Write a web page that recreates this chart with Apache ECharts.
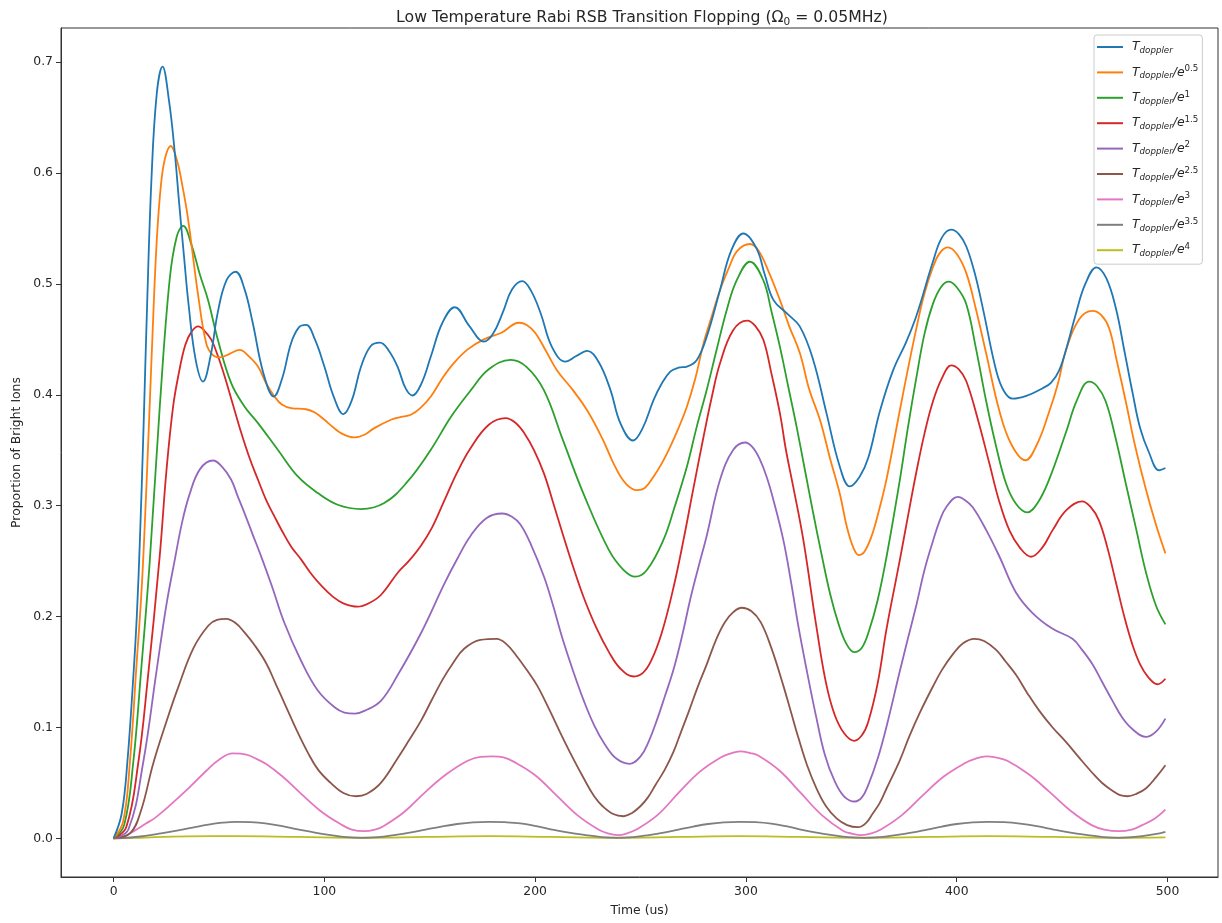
<!DOCTYPE html>
<html>
<head>
<meta charset="utf-8">
<script src="https://cdn.jsdelivr.net/npm/echarts@6/dist/echarts.min.js"></script>
<style>
  html, body { margin: 0; padding: 0; background: #fff; }
  #chart { width: 1222px; height: 923px; }
</style>
</head>
<body>
<div id="chart"></div>
<script>
// RSB flopping curves, [time (us), proportion bright], one per temperature T_doppler / e^k
const tDoppler = [[0,0],[3.8,0.022],[6.5,0.068],[9.5,0.15],[11,0.2],[12.5,0.27],[14.2,0.37],[15.9,0.481],[18,0.596],[20.5,0.672],[23.2,0.696],[26.3,0.665],[29,0.619],[31.1,0.573],[33.3,0.527],[35.6,0.481],[38.9,0.432],[42.4,0.412],[46,0.435],[49.5,0.475],[53.5,0.503],[57.9,0.511],[62,0.496],[66,0.465],[71,0.42],[76,0.3985],[80,0.415],[84.2,0.4466],[88,0.461],[91.3,0.463],[95.5,0.45],[100,0.4255],[104.5,0.398],[109,0.3826],[113,0.395],[117.4,0.4255],[122,0.444],[126.4,0.4471],[130.5,0.44],[134.7,0.4255],[138.5,0.406],[141.8,0.3994],[146,0.41],[150.5,0.4345],[156,0.465],[161.9,0.479],[168.8,0.462],[175.7,0.448],[180,0.455],[184.8,0.475],[189,0.495],[193.9,0.5025],[198,0.494],[202.6,0.4736],[208,0.443],[214.4,0.43],[219.5,0.435],[224.7,0.4396],[230,0.43],[235.7,0.4045],[240.4,0.3745],[246.4,0.3588],[251,0.37],[256.2,0.3955],[260,0.41],[264.1,0.421],[268,0.4245],[272,0.4255],[276.7,0.4315],[281.4,0.4525],[287.7,0.4946],[293,0.53],[298.8,0.5455],[305,0.532],[309,0.508],[313,0.4856],[319.3,0.4736],[325.6,0.4615],[331.9,0.4315],[338.2,0.3835],[344.5,0.3354],[349.3,0.3174],[354,0.3264],[358,0.343],[363.5,0.385],[369.8,0.422],[376.1,0.448],[381,0.472],[388.7,0.52],[393,0.542],[397.4,0.549],[401,0.545],[404.5,0.534],[408.5,0.51],[412.4,0.478],[418.7,0.422],[422.5,0.403],[426.6,0.3965],[433,0.399],[440.8,0.406],[444.8,0.411],[448.6,0.422],[452.5,0.445],[456.5,0.473],[461,0.5],[466.3,0.515],[471,0.505],[475.5,0.478],[479.5,0.44],[483.3,0.403],[487,0.37],[491.2,0.348],[496,0.332],[499,0.334]];
const tE05 = [[0,0],[4.5,0.015],[7.7,0.068],[11,0.16],[13,0.215],[14.5,0.27],[16.7,0.37],[18.8,0.47],[20.5,0.54],[22.5,0.59],[24.5,0.614],[27.1,0.6244],[30,0.612],[32.5,0.59],[35.3,0.559],[40.1,0.49],[44,0.446],[47,0.436],[50.3,0.4337],[55,0.437],[59.8,0.4405],[64,0.435],[68.5,0.4255],[72.5,0.41],[76.3,0.3985],[80,0.391],[84.2,0.388],[91.3,0.387],[95.5,0.384],[100,0.3775],[104,0.371],[107.9,0.3655],[114.2,0.3616],[119,0.364],[123.7,0.37],[131.6,0.3775],[136,0.38],[141,0.382],[145.5,0.388],[150.5,0.3985],[156,0.415],[161.6,0.429],[168,0.441],[175.7,0.45],[184,0.456],[192.3,0.465],[196,0.463],[200,0.456],[205,0.44],[210.4,0.422],[218,0.404],[225,0.385],[232,0.36],[238,0.335],[243,0.32],[248.3,0.314],[252,0.316],[256.2,0.3264],[260,0.338],[264.1,0.3534],[268,0.37],[272,0.3895],[276,0.415],[279.9,0.4466],[283.8,0.471],[287.7,0.4946],[292,0.515],[296,0.53],[301.9,0.536],[306,0.53],[311,0.51],[316.1,0.4856],[320.5,0.462],[325.6,0.4375],[330,0.405],[335.1,0.3775],[340,0.342],[344.5,0.311],[348,0.28],[351,0.262],[353.5,0.2555],[356,0.258],[359.5,0.272],[363,0.295],[366.7,0.324],[372.9,0.385],[376.5,0.42],[380.8,0.4595],[384.5,0.49],[388.7,0.515],[392,0.528],[395.8,0.533],[400,0.527],[404.5,0.51],[409,0.478],[414,0.437],[420.3,0.385],[426,0.355],[432.6,0.341],[438,0.355],[443.9,0.385],[448,0.41],[451.8,0.44],[458,0.468],[464.4,0.4757],[468.5,0.472],[472.3,0.46],[476,0.43],[480.2,0.394],[484.5,0.355],[489.7,0.315],[494.5,0.283],[499,0.257]];
const tE10 = [[0,0],[5,0.012],[9.3,0.068],[13,0.15],[17.2,0.251],[21.9,0.389],[26.6,0.504],[30,0.543],[33,0.5523],[37,0.535],[41,0.508],[44.8,0.4856],[49.5,0.4495],[55.8,0.4105],[62.1,0.3895],[68.5,0.3745],[77.9,0.3505],[87.4,0.3264],[96.9,0.3114],[106.3,0.3009],[117.4,0.297],[128.4,0.3024],[139.5,0.3219],[150.5,0.3505],[160,0.38],[169.4,0.404],[178,0.423],[188.4,0.4315],[196,0.425],[204.2,0.404],[213,0.36],[223.1,0.31],[235,0.26],[242,0.242],[247.5,0.236],[253,0.242],[260.9,0.2694],[266,0.298],[272,0.3354],[276.5,0.37],[281.4,0.4045],[286,0.44],[290.9,0.4766],[295.7,0.5036],[301.9,0.52],[308.3,0.503],[312,0.476],[316.1,0.4435],[320,0.408],[324,0.3715],[328,0.332],[331.9,0.2934],[336,0.255],[340,0.22],[344,0.193],[347.5,0.176],[351.3,0.168],[355,0.172],[358.5,0.188],[362.5,0.215],[366.7,0.254],[372.9,0.322],[376.8,0.37],[380.8,0.415],[384.7,0.455],[388.7,0.482],[392.5,0.497],[396.1,0.502],[400,0.497],[404.5,0.482],[409,0.443],[414,0.394],[418.5,0.355],[423.4,0.32],[428,0.302],[433.4,0.294],[438.5,0.303],[443.9,0.324],[451.8,0.366],[457,0.395],[462.8,0.412],[466.5,0.408],[470.7,0.394],[475.5,0.36],[480.2,0.32],[485,0.28],[489.7,0.2405],[494.5,0.21],[499,0.193]];
const tE15 = [[0,0],[6,0.01],[11.7,0.068],[16,0.14],[21.9,0.255],[25,0.33],[28.2,0.389],[31,0.42],[34,0.445],[37,0.457],[40.1,0.4617],[43,0.458],[46.4,0.4495],[49.5,0.435],[52.7,0.4165],[56.5,0.392],[60.6,0.3655],[64.5,0.343],[68.5,0.3234],[72.4,0.305],[76.3,0.2904],[80,0.277],[84.2,0.2633],[89,0.2514],[94,0.238],[99,0.227],[104,0.218],[109,0.212],[115.8,0.209],[121,0.212],[126.8,0.2195],[135,0.24],[140,0.25],[145.8,0.264],[151,0.28],[157,0.305],[163,0.33],[169.4,0.352],[178,0.373],[186,0.379],[190.5,0.375],[195,0.365],[199.5,0.35],[204.2,0.329],[208.5,0.303],[213,0.275],[218,0.245],[223.1,0.217],[229,0.19],[235,0.168],[240.5,0.153],[246.7,0.146],[251,0.149],[255,0.16],[260,0.185],[265.6,0.226],[270.4,0.2694],[275,0.315],[279.9,0.3624],[283.8,0.398],[287.7,0.4285],[294,0.4585],[300.6,0.467],[304.5,0.462],[308.3,0.4495],[312,0.42],[316.1,0.3835],[319,0.35],[322.4,0.3174],[327.2,0.2694],[333.5,0.19],[338,0.14],[342,0.112],[346.5,0.095],[351.3,0.088],[355,0.093],[358,0.105],[362.5,0.14],[366.7,0.189],[372.9,0.25],[376.8,0.29],[380.8,0.33],[384.7,0.365],[388.7,0.394],[393,0.415],[397.4,0.4266],[401,0.423],[404.5,0.4125],[410,0.378],[415.5,0.338],[420,0.305],[425,0.2777],[430,0.262],[435.3,0.254],[440.5,0.262],[445.5,0.278],[452,0.296],[459.4,0.304],[463.5,0.299],[467.4,0.287],[471.5,0.262],[475.5,0.231],[479.5,0.2],[483.3,0.175],[487,0.157],[491,0.145],[495.2,0.139],[499,0.144]];
const tE20 = [[0,0],[7,0.008],[14,0.068],[20.3,0.15],[25,0.21],[29,0.251],[32.5,0.285],[36,0.31],[41,0.333],[47.2,0.3408],[51.5,0.335],[55.8,0.3234],[59,0.308],[62.1,0.2934],[66,0.274],[70,0.2543],[75,0.228],[81.1,0.194],[89,0.16],[96.9,0.1334],[105,0.118],[109.5,0.1135],[114.5,0.1125],[119,0.115],[126.8,0.124],[135,0.148],[145.8,0.185],[157,0.23],[163,0.252],[169.4,0.273],[177,0.289],[184.4,0.293],[189,0.29],[193,0.283],[198,0.265],[204.2,0.236],[208.5,0.21],[213,0.18],[218,0.151],[223.1,0.124],[228,0.102],[233,0.085],[238.5,0.072],[244.8,0.0673],[250,0.074],[254,0.088],[258,0.108],[261.5,0.128],[265.6,0.152],[270,0.185],[273.5,0.215],[277.5,0.245],[281.4,0.273],[287.7,0.3234],[294,0.3504],[299.6,0.357],[303,0.353],[306.7,0.3414],[310,0.325],[313,0.3054],[317.7,0.2694],[321.5,0.23],[325,0.19],[329,0.15],[333.5,0.108],[337.5,0.075],[342,0.052],[346.5,0.038],[351.6,0.0333],[355,0.037],[358,0.048],[362.5,0.072],[366.7,0.101],[372.9,0.15],[376.8,0.18],[380.8,0.21],[384.7,0.242],[388.7,0.268],[392,0.287],[395,0.2986],[400.5,0.308],[404,0.305],[407.6,0.2986],[414,0.278],[420.3,0.254],[428.1,0.2218],[436.1,0.203],[445.5,0.189],[454.9,0.18],[459.5,0.17],[464.4,0.157],[469,0.141],[473.9,0.124],[478.5,0.109],[483.3,0.0986],[489.7,0.0915],[494.4,0.096],[499,0.108]];
const tE25 = [[0,0],[8,0.005],[13,0.025],[18.8,0.0676],[25,0.105],[30.6,0.136],[38,0.172],[45,0.192],[49,0.197],[53.5,0.198],[58,0.194],[62,0.186],[67,0.174],[72.4,0.158],[77,0.139],[82,0.118],[87,0.097],[92.1,0.0776],[97,0.062],[103,0.05],[109,0.041],[115,0.038],[120,0.04],[126.8,0.05],[135,0.073],[140,0.088],[145.8,0.106],[151,0.125],[156,0.143],[161,0.158],[166.3,0.171],[174,0.179],[181.7,0.18],[186.5,0.175],[191,0.165],[196,0.152],[200.9,0.138],[206.5,0.117],[212,0.095],[217.5,0.074],[223.1,0.054],[228,0.038],[232,0.029],[237,0.022],[242,0.02],[246,0.023],[249.9,0.029],[253.5,0.037],[257,0.048],[261.5,0.062],[265.6,0.078],[269,0.095],[273,0.115],[277,0.136],[281.4,0.157],[286,0.18],[290,0.195],[294,0.204],[298,0.208],[302.5,0.205],[307,0.195],[312,0.172],[317.7,0.138],[321.5,0.113],[325,0.09],[329,0.066],[333.5,0.045],[338,0.029],[343,0.018],[348,0.012],[353.2,0.0101],[357,0.014],[360,0.022],[363.5,0.032],[366.7,0.045],[372.9,0.07],[377.5,0.092],[382.4,0.113],[388.7,0.137],[393,0.152],[398.1,0.166],[403,0.176],[408.4,0.18],[413,0.178],[418.7,0.17],[423,0.16],[428.1,0.1475],[433.5,0.131],[439.2,0.115],[445.5,0.1],[451.8,0.087],[458,0.073],[464.4,0.059],[469,0.05],[473.9,0.043],[477.5,0.039],[481,0.038],[485,0.04],[489.7,0.045],[494.5,0.055],[499,0.066]];
const tE30 = [[0,0],[5,0.002],[10,0.007],[15,0.013],[20,0.019],[28,0.032],[36,0.046],[44,0.061],[50,0.071],[56.6,0.0766],[63,0.0755],[68,0.0715],[72.4,0.067],[80,0.056],[88,0.042],[98,0.025],[108,0.0125],[113,0.008],[118.9,0.0065],[124,0.008],[128,0.011],[138,0.024],[148,0.042],[158,0.058],[168,0.07],[174,0.0735],[179.7,0.074],[185,0.073],[190,0.069],[200,0.057],[210,0.039],[220,0.021],[230,0.008],[234.5,0.0045],[239.2,0.003],[243.5,0.0045],[248,0.008],[258,0.021],[268,0.041],[278,0.06],[288,0.073],[292.5,0.0765],[297.2,0.0785],[302,0.077],[306,0.0745],[316,0.061],[326,0.041],[336,0.021],[346,0.007],[350.5,0.0042],[354.8,0.003],[359.5,0.0045],[364,0.008],[374,0.021],[384,0.039],[394,0.056],[404,0.068],[409,0.072],[414,0.074],[419,0.0728],[424,0.07],[434,0.058],[444,0.042],[454,0.025],[464,0.012],[470,0.008],[477,0.0065],[483,0.008],[488,0.012],[494,0.018],[499,0.026]];
const tE35 = [[0,0],[8,0.0008],[15,0.0022],[22.5,0.0045],[30,0.007],[37.5,0.0098],[45,0.0125],[51.5,0.0142],[58,0.015],[65,0.0147],[72,0.0135],[80,0.011],[88,0.008],[95.5,0.0052],[103,0.003],[110.5,0.0012],[118,0.0005],[125.5,0.0012],[133,0.003],[140.5,0.0052],[148,0.008],[155.5,0.0107],[163,0.013],[170.5,0.0145],[178,0.015],[185.5,0.0146],[193,0.0135],[200.5,0.011],[208,0.008],[216,0.0052],[224,0.003],[231.5,0.0012],[239,0.0005],[246.5,0.0012],[254,0.003],[261,0.0052],[268,0.008],[275,0.0107],[282,0.013],[289.5,0.0145],[297,0.015],[304.5,0.0146],[312,0.0133],[319,0.011],[326,0.008],[333.5,0.0052],[341,0.003],[348.5,0.0012],[356,0.0005],[363.5,0.0012],[371,0.003],[378.5,0.0052],[386,0.008],[393,0.0107],[400,0.013],[407.5,0.0145],[415,0.015],[422.5,0.0146],[430,0.0133],[438,0.011],[446,0.008],[454,0.0052],[462,0.003],[469.5,0.0012],[477,0.0005],[483,0.0011],[488,0.002],[494,0.0038],[499,0.006]];
const tE40 = [[0,0],[10,0.0004],[20,0.0012],[35,0.0018],[58,0.002],[88,0.0013],[118,0.0006],[148,0.0013],[178,0.002],[208,0.0013],[239,0.0006],[268,0.0013],[297,0.002],[326,0.0013],[356,0.0006],[386,0.0013],[415,0.002],[446,0.0013],[477,0.0006],[499,0.001]];

const seriesNames = ['T_doppler', 'T_doppler/e^0.5', 'T_doppler/e^1', 'T_doppler/e^1.5', 'T_doppler/e^2',
                     'T_doppler/e^2.5', 'T_doppler/e^3', 'T_doppler/e^3.5', 'T_doppler/e^4'];
const seriesData = [tDoppler, tE05, tE10, tE15, tE20, tE25, tE30, tE35, tE40];
const colors = ['#1f77b4', '#ff7f0e', '#2ca02c', '#d62728', '#9467bd', '#8c564b', '#e377c2', '#7f7f7f', '#bcbd22'];

const xTicks = [0, 100, 200, 300, 400, 500];
const yTicks = [0, 0.1, 0.2, 0.3, 0.4, 0.5, 0.6, 0.7];

const FONT = 'DejaVu Sans';
const INK = '#262626';

const chart = echarts.init(document.getElementById('chart'), null, { renderer: 'canvas' });

const series = seriesNames.map((name, i) => ({
  name: name,
  type: 'line',
  data: seriesData[i],
  smooth: 0.4,
  symbol: 'none',
  showSymbol: false,
  color: colors[i],
  lineStyle: { width: 1.8, color: colors[i] },
  z: 10 - i,
  animation: false
}));

chart.setOption({
  animation: false,
  backgroundColor: '#ffffff',
  title: {
    text: '{a|Low Temperature Rabi RSB Transition Flopping (Ω}{s|0}{a| = 0.05MHz)}',
    left: 637,
    top: 3,
    textAlign: 'center',
    textStyle: {
      fontWeight: 'normal',
      rich: {
        a: { fontFamily: FONT, fontSize: 15.7, fontWeight: 'normal', color: INK, lineHeight: 20, verticalAlign: 'middle' },
        s: { fontFamily: FONT, fontSize: 10.5, fontWeight: 'normal', color: INK, lineHeight: 12, verticalAlign: 'bottom' }
      }
    }
  },
  grid: {
    left: 61, right: 4, top: 28, bottom: 46,
    show: true, borderColor: '#333', borderWidth: 1,
    containLabel: false, outerBoundsMode: 'none'
  },
  legend: {
    orient: 'vertical',
    left: 1094,
    top: 35,
    padding: [6, 4, 6, 3],
    icon: 'rect',
    itemWidth: 26,
    itemHeight: 2,
    itemGap: 9.4,
    backgroundColor: 'rgba(255,255,255,0.8)',
    borderColor: '#cccccc',
    borderWidth: 1,
    borderRadius: 3,
    data: seriesNames,
    formatter: function (name) {
      const parts = name.split('/e^');
      let s = '{t|T}{d|doppler}';
      if (parts.length > 1) s += '{t|/e}{p|' + parts[1] + '}';
      return s;
    },
    textStyle: {
      padding: [0, 0, 0, 4],
      rich: {
        t: { fontFamily: FONT, fontStyle: 'italic', fontSize: 12.4, color: INK, lineHeight: 16, verticalAlign: 'middle' },
        d: { fontFamily: FONT, fontStyle: 'italic', fontSize: 8.7, color: INK, lineHeight: 9, verticalAlign: 'bottom' },
        p: { fontFamily: FONT, fontSize: 8.7, color: INK, lineHeight: 9, verticalAlign: 'top' }
      }
    }
  },
  xAxis: {
    type: 'value',
    min: -24.95,
    max: 523.95,
    name: 'Time (us)',
    nameLocation: 'middle',
    nameGap: 28,
    nameTextStyle: { fontFamily: FONT, fontSize: 12.4, color: INK },
    axisLine: { show: true, onZero: false, lineStyle: { color: '#333', width: 1 } },
    axisTick: { show: true, length: 5, inside: false, customValues: xTicks, lineStyle: { color: '#333' } },
    axisLabel: { customValues: xTicks, fontFamily: FONT, fontSize: 12.4, color: INK, margin: 9,
                 formatter: v => String(v) },
    splitLine: { show: false }
  },
  yAxis: {
    type: 'value',
    min: -0.0348,
    max: 0.7308,
    name: 'Proportion of Bright Ions',
    nameLocation: 'middle',
    nameGap: 38,
    nameRotate: 90,
    nameTextStyle: { fontFamily: FONT, fontSize: 12.4, color: INK },
    axisLine: { show: true, onZero: false, lineStyle: { color: '#333', width: 1 } },
    axisTick: { show: true, length: 5, inside: false, customValues: yTicks, lineStyle: { color: '#333' } },
    axisLabel: { customValues: yTicks, fontFamily: FONT, fontSize: 12.4, color: INK, margin: 8,
                 formatter: v => v.toFixed(1) },
    splitLine: { show: false }
  },
  series: series
});
</script>
</body>
</html>
